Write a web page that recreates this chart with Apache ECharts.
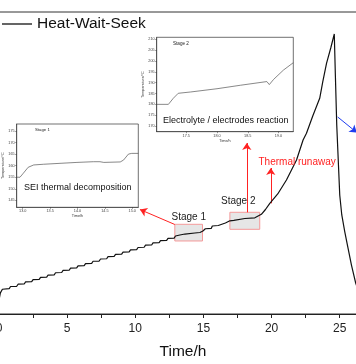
<!DOCTYPE html>
<html><head><meta charset="utf-8">
<script src="https://cdn.jsdelivr.net/npm/echarts@6/dist/echarts.min.js"></script>
<style>html,body{margin:0;padding:0;background:#fff}#c{width:356px;height:364px}</style>
</head><body><div id="c"></div>
<script>
// ---- Main curve (Heat-Wait-Seek) ----
const mainTime = [0,0.1,0.25,0.75,0.85,1.30,1.40,1.85,1.95,2.40,2.50,2.95,3.05,3.50,3.60,4.05,4.15,4.60,4.70,5.15,5.25,5.70,5.80,6.25,6.35,6.80,6.90,7.35,7.45,7.90,8.00,8.45,8.55,9.00,9.10,9.55,9.65,10.10,10.20,10.65,10.75,11.20,11.30,11.75,11.85,12.30,12.40,12.85,12.95,
  13.27,13.64,14.37,14.74,14.81,14.96,15.07,15.14,15.58,15.65,16.09,16.17,16.61,16.68,
  16.94,17.23,17.34,18.04,18.77,18.91,19.25,19.55,19.87,20.45,21.09,21.83,22.31,22.56,23.02,23.53,23.75,24.03,24.34,24.6,
  24.68,24.78,24.89,25.0,25.15,25.37,25.59,25.86,26.17,26.4];
const mainTemp = [48,60,66,67,70.5,70.9,74.3,74.7,78.1,78.5,81.9,82.3,85.7,86.1,89.5,89.9,93.3,93.7,97.1,97.5,100.9,101.3,104.7,105.1,108.5,108.9,112.3,112.7,116.1,116.5,119.9,120.3,123.7,124.1,127.5,127.9,131.3,131.7,135.1,135.5,138.9,139.3,142.7,143.1,146.5,146.9,150.3,150.7,154.1,
  155.8,157.4,159.1,159.9,161.6,162.4,162.6,166.1,166.9,170.7,171.5,174.8,175.7,179.0,
  179.3,180.1,182.3,183.1,184.3,185.6,190,198,208.3,223.7,246.8,280,313.1,324.2,352.8,382.1,409,440,465.4,488.6,
  420,338,280,222,189,160.8,136,106,76.3,62];
const mainXTicks = [0,2.5,5,7.5,10,12.5,15,17.5,20,22.5,25];
const mainXLabels = [0,5,10,15,20,25];

// ---- Inset 1: Stage 1 (SEI thermal decomposition) ----
const ins1Time = [12.89,12.95,13.01,13.10,13.20,13.38,13.68,13.99,14.29,14.41,14.48,14.78,14.84,14.93,14.99,15.11];
const ins1Temp = [155,155,156.7,159.3,160.3,160.6,161,161.4,161.7,161.7,161.4,161.6,162.4,165,165.3,165.3];
const ins1XLabels = [13.0,13.5,14.0,14.5,15.0];
const ins1YLabels = [145,150,155,160,165,170,175];

// ---- Inset 2: Stage 2 (Electrolyte / electrodes reaction) ----
const ins2Time = [17.02,17.21,17.29,17.37,17.57,18.0,18.38,18.81,18.85,18.92,19.08,19.24];
const ins2Temp = [180,180,182.8,185.1,185.7,187.2,188.8,190.5,189.1,191.5,195.8,199.2];
const ins2XLabels = [17.5,18.0,18.5,19.0];
const ins2YLabels = [170,175,180,185,190,195,200,205,210];

const F = 'Liberation Sans, Arial, sans-serif';
const zip = (a,b) => a.map((v,i)=>[v,b[i]]);

function insetX(grid, min, max, labels, gap){
  return {gridIndex:grid, type:'value', min:min, max:max,
    axisLine:{lineStyle:{color:'#333', width:0.6}},
    axisTick:{customValues:labels, length:1.5, lineStyle:{color:'#333', width:0.5}},
    axisLabel:{customValues:labels, formatter:v=>v.toFixed(1), fontSize:3.8, margin:2, color:'#444', fontFamily:F},
    splitLine:{show:false},
    name:'Time/h', nameLocation:'middle', nameGap:gap, nameTextStyle:{fontSize:3.8, color:'#333', fontFamily:F}};
}
function insetY(grid, min, max, labels, gap){
  return {gridIndex:grid, type:'value', min:min, max:max,
    axisLine:{show:true, lineStyle:{color:'#333', width:0.6}},
    axisTick:{show:true, customValues:labels, length:1.5, lineStyle:{color:'#333', width:0.5}},
    axisLabel:{customValues:labels, fontSize:3.8, margin:2, color:'#444', fontFamily:F},
    splitLine:{show:false},
    name:'Temperature/°C', nameLocation:'middle', nameRotate:90, nameGap:gap, nameTextStyle:{fontSize:3.8, color:'#333', fontFamily:F}};
}

const chart = echarts.init(document.getElementById('c'), null, {renderer:'canvas'});
chart.setOption({
  animation:false,
  backgroundColor:'#fff',
  textStyle:{fontFamily:F},
  legend:{data:[{name:'Heat-Wait-Seek', icon:'rect'}], left:2, top:16, padding:0, itemWidth:30, itemHeight:1.3,
    itemStyle:{color:'#111'},
    textStyle:{fontSize:15.5, color:'#111', fontFamily:F}},
  grid:[
    {left:-1, right:-11, top:12, bottom:50, outerBoundsMode:'none', containLabel:false, show:true, borderColor:'#333', borderWidth:1, backgroundColor:'transparent'},
    {left:16.7, top:124, width:121.6, height:83.3, outerBoundsMode:'none', containLabel:false, show:true, backgroundColor:'#fff', borderColor:'#333', borderWidth:0.7},
    {left:156.7, top:37.3, width:136.6, height:94.4, outerBoundsMode:'none', containLabel:false, show:true, backgroundColor:'#fff', borderColor:'#333', borderWidth:0.7}
  ],
  xAxis:[
    {gridIndex:0, type:'value', min:0, max:27,
      axisLine:{lineStyle:{color:'#222', width:1}},
      axisTick:{customValues:mainXTicks, length:4, lineStyle:{color:'#222'}},
      axisLabel:{customValues:mainXLabels, fontSize:12, color:'#222', margin:9, fontFamily:F},
      splitLine:{show:false},
      name:'Time/h', nameLocation:'middle', nameGap:30, nameTextStyle:{fontSize:15.5, color:'#111', fontFamily:F}},
    insetX(1, 12.89, 15.11, ins1XLabels, 6),
    insetX(2, 17.02, 19.24, ins2XLabels, 7)
  ],
  yAxis:[
    {gridIndex:0, type:'value', min:25, max:525, show:false, splitLine:{show:false}},
    insetY(1, 142, 178, ins1YLabels, 11),
    insetY(2, 167.4, 210.9, ins2YLabels, 11)
  ],
  series:[
    {name:'Heat-Wait-Seek', type:'line', xAxisIndex:0, yAxisIndex:0, data:zip(mainTime, mainTemp),
      symbol:'none', showSymbol:false, lineStyle:{color:'#111', width:1.2}, itemStyle:{color:'#111'}, z:5,
      markArea:{silent:true,
        itemStyle:{color:'rgba(222,222,222,0.75)', borderColor:'#f49a9a', borderWidth:1, opacity:1},
        data:[
          [{xAxis:12.9, yAxis:145.9},{xAxis:14.93, yAxis:173.5}],
          [{xAxis:16.94, yAxis:165.2},{xAxis:19.13, yAxis:193.4}]
        ]},
      markLine:{silent:true, symbol:['none','arrow'], symbolSize:7, label:{show:false},
        lineStyle:{type:'solid', width:1, color:'#f22'},
        emphasis:{disabled:true},
        data:[
          [{coord:[12.9,173.2], lineStyle:{color:'#f22', type:'solid', width:1}},{coord:[10.34,198]}],
          [{coord:[18.18,193.4], lineStyle:{color:'#f22', type:'solid', width:1}},{coord:[18.18,308]}],
          [{coord:[19.94,208.3], lineStyle:{color:'#f22', type:'solid', width:1}},{coord:[19.94,266.7]}],
          [{coord:[24.85,351.2], lineStyle:{color:'#1f3df0', type:'solid', width:1}},{coord:[26.25,325.5]}]
        ]}
    },
    {name:'Stage 1 detail', type:'line', xAxisIndex:1, yAxisIndex:1, data:zip(ins1Time, ins1Temp),
      symbol:'none', showSymbol:false, lineStyle:{color:'#555', width:0.7}},
    {name:'Stage 2 detail', type:'line', xAxisIndex:2, yAxisIndex:2, data:zip(ins2Time, ins2Temp),
      symbol:'none', showSymbol:false, lineStyle:{color:'#555', width:0.7}}
  ],
  graphic:[
    {type:'text', left:35, top:127.5, z:100, style:{text:'Stage 1', fontSize:4.3, fontFamily:F, fill:'#222'}},
    {type:'text', left:173, top:41.5, z:100, style:{text:'Stage 2', fontSize:4.6, fontFamily:F, fill:'#222'}},
    {type:'text', left:24, top:183, z:100, style:{text:'SEI thermal decomposition', fontSize:9, fontFamily:F, fill:'#111'}},
    {type:'text', left:163, top:116.5, z:100, style:{text:'Electrolyte / electrodes reaction', fontSize:9, fontFamily:F, fill:'#111'}},
    {type:'text', left:171.5, top:212.5, z:100, style:{text:'Stage 1', fontSize:10, fontFamily:F, fill:'#222'}},
    {type:'text', left:221, top:196.5, z:100, style:{text:'Stage 2', fontSize:10, fontFamily:F, fill:'#222'}},
    {type:'text', left:258.5, top:157.5, z:100, style:{text:'Thermal runaway', fontSize:10, fontFamily:F, fill:'#f22'}}
  ]
});
</script></body></html>
